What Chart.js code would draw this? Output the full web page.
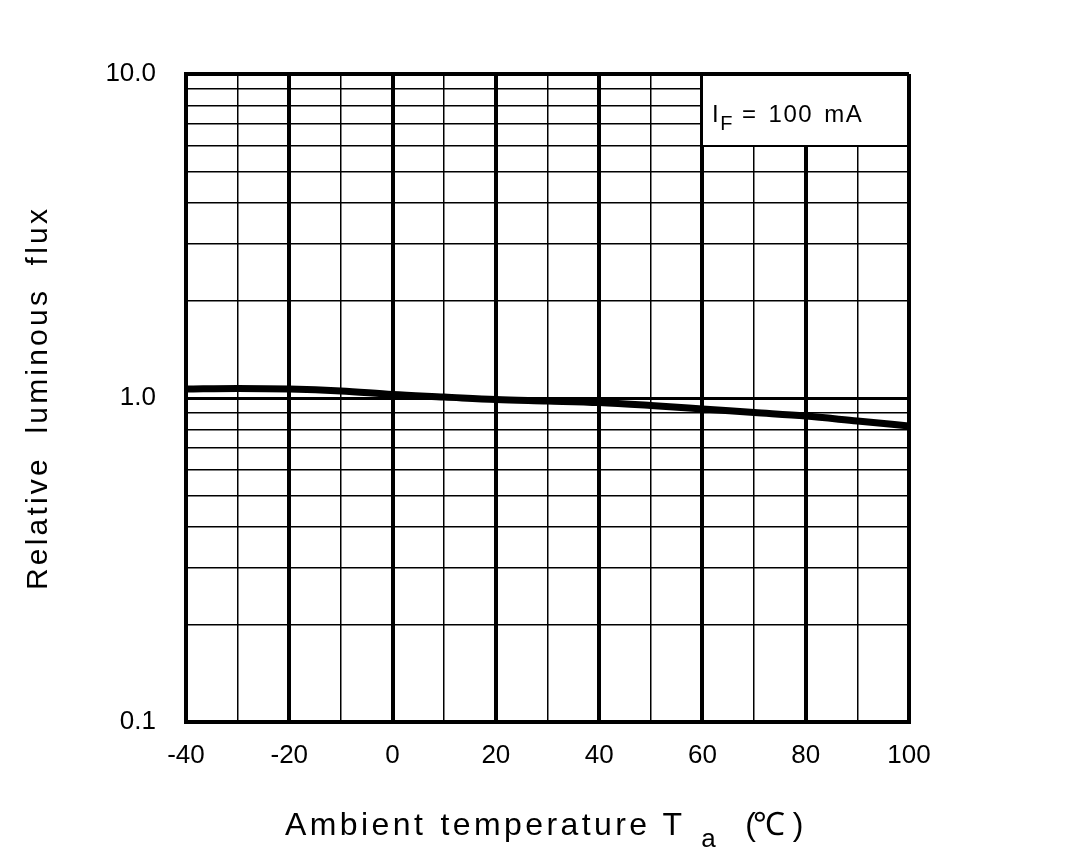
<!DOCTYPE html>
<html>
<head>
<meta charset="utf-8">
<script src="https://cdn.jsdelivr.net/npm/chart.js@4.4.1/dist/chart.umd.min.js"></script>
<style>
  body { margin: 0; background: #fff; }
  #chart { display: block; }
</style>
</head>
<body>
<canvas id="chart" width="1091" height="858"></canvas>
<script>
// temperature points (deg C) and relative luminous flux
const temps = [-40, -30, -20, -10, 0, 10, 20, 30, 40, 50, 60, 70, 80, 90, 100];
const flux = [1.066, 1.070, 1.066, 1.051, 1.025, 1.007, 0.989, 0.979, 0.968, 0.948, 0.925, 0.902, 0.880, 0.849, 0.820];

// grid / tick values
const xGrid = [-40, -30, -20, -10, 0, 10, 20, 30, 40, 50, 60, 70, 80, 90, 100];
const xLabelled = [-40, -20, 0, 20, 40, 60, 80, 100];
const yGrid = [0.1, 0.2, 0.3, 0.4, 0.5, 0.6, 0.7, 0.8, 0.9, 1, 2, 3, 4, 5, 6, 7, 8, 9, 10];
const yLabels = { 0.1: '0.1', 1: '1.0', 10: '10.0' };

const FONT = "'Liberation Sans', Arial, sans-serif";

const textPlugin = {
  id: 'textPlugin',
  beforeDatasetsDraw(chart) {
    // condition box in the top right corner, covers the grid
    const ctx = chart.ctx;
    const a = chart.chartArea;
    const boxW = 207, boxH = 72;
    ctx.save();
    ctx.fillStyle = '#fff';
    ctx.fillRect(a.right - boxW, a.top + 2, boxW - 2, boxH - 2);
    ctx.strokeStyle = '#000';
    ctx.lineWidth = 2;
    ctx.beginPath();
    ctx.moveTo(a.right - boxW, a.top);
    ctx.lineTo(a.right - boxW, a.top + boxH);
    ctx.lineTo(a.right, a.top + boxH);
    ctx.stroke();

    ctx.fillStyle = '#000';
    ctx.textBaseline = 'alphabetic';
    ctx.textAlign = 'left';
    let x = a.right - boxW + 10;
    const base = a.top + 48;
    ctx.font = '24px ' + FONT;
    ctx.letterSpacing = '1.5px';
    ctx.fillText('I', x, base);
    x += ctx.measureText('I').width;
    ctx.font = '20px ' + FONT;
    ctx.fillText('F', x, base + 8);
    x += ctx.measureText('F').width + 8;
    ctx.font = '24px ' + FONT;
    ctx.wordSpacing = '3px';
    ctx.fillText('= 100 mA', x, base);
    ctx.restore();
  },
  afterDraw(chart) {
    const ctx = chart.ctx;
    const a = chart.chartArea;
    ctx.save();
    ctx.fillStyle = '#000';
    ctx.textBaseline = 'alphabetic';

    // y title
    ctx.save();
    ctx.translate(47, (a.top + a.bottom) / 2);
    ctx.rotate(-Math.PI / 2);
    ctx.textAlign = 'center';
    ctx.font = '30px ' + FONT;
    ctx.letterSpacing = '3.2px';
    ctx.wordSpacing = '11px';
    ctx.fillText('Relative luminous flux', 0, 0);
    ctx.restore();

    // x title with subscript
    ctx.textAlign = 'left';
    ctx.letterSpacing = '3.4px';
    ctx.wordSpacing = '2px';
    const big = '32px ' + FONT;
    const parts = [
      { t: 'Ambient temperature', f: big, dy: 0, gap: 12 },
      { t: 'T', f: big, dy: 0, gap: 16 },
      { t: 'a', f: '26px ' + FONT, dy: 12, gap: 26 },
      { t: '(', f: big, dy: 0, gap: -6 },
      { t: '\u2103', f: big, dy: 0, gap: 4 },
      { t: ')', f: big, dy: 0, gap: 0 }
    ];
    let x = 285;
    const base = 835;
    parts.forEach(p => {
      ctx.font = p.f;
      ctx.fillText(p.t, x, base + p.dy);
      x += ctx.measureText(p.t).width + p.gap;
    });
    ctx.restore();
  }
};

const ctx = document.getElementById('chart').getContext('2d');
new Chart(ctx, {
  type: 'line',
  data: {
    datasets: [{
      data: temps.map((t, i) => ({ x: t, y: flux[i] })),
      borderColor: '#000',
      borderWidth: 7,
      pointRadius: 0,
      tension: 0.4,
      cubicInterpolationMode: 'monotone',
      fill: false
    }]
  },
  options: {
    responsive: false,
    animation: false,
    events: [],
    layout: { padding: { top: 74, right: 182, left: 0, bottom: 0 } },
    plugins: { legend: { display: false }, tooltip: { enabled: false } },
    scales: {
      x: {
        type: 'linear',
        min: -40,
        max: 100,
        afterBuildTicks: (scale) => { scale.ticks = xGrid.map(v => ({ value: v })); },
        afterFit: (scale) => { scale.height = 136; },
        ticks: {
          autoSkip: false,
          maxRotation: 0,
          padding: 18,
          color: '#000',
          font: { family: FONT, size: 26 },
          callback: (v) => xLabelled.includes(v) ? String(v) : ''
        },
        grid: {
          drawTicks: false,
          color: '#000',
          lineWidth: (c) => (c.tick && c.tick.value % 20 === 0) ? 4 : 1.5
        },
        border: { display: true, color: '#000', width: 4 }
      },
      y: {
        type: 'logarithmic',
        min: 0.1,
        max: 10,
        afterBuildTicks: (scale) => { scale.ticks = yGrid.map(v => ({ value: v })); },
        afterFit: (scale) => { scale.width = 186; },
        ticks: {
          autoSkip: false,
          padding: 30,
          color: '#000',
          font: { family: FONT, size: 26 },
          callback: (v) => yLabels[v] || ''
        },
        grid: {
          drawTicks: false,
          color: '#000',
          lineWidth: (c) => {
            const v = c.tick ? c.tick.value : 0;
            if (v === 0.1 || v === 10) return 4;
            if (v === 1) return 3;
            return 1.5;
          }
        },
        border: { display: true, color: '#000', width: 4 }
      }
    }
  },
  plugins: [textPlugin]
});
</script>
</body>
</html>
